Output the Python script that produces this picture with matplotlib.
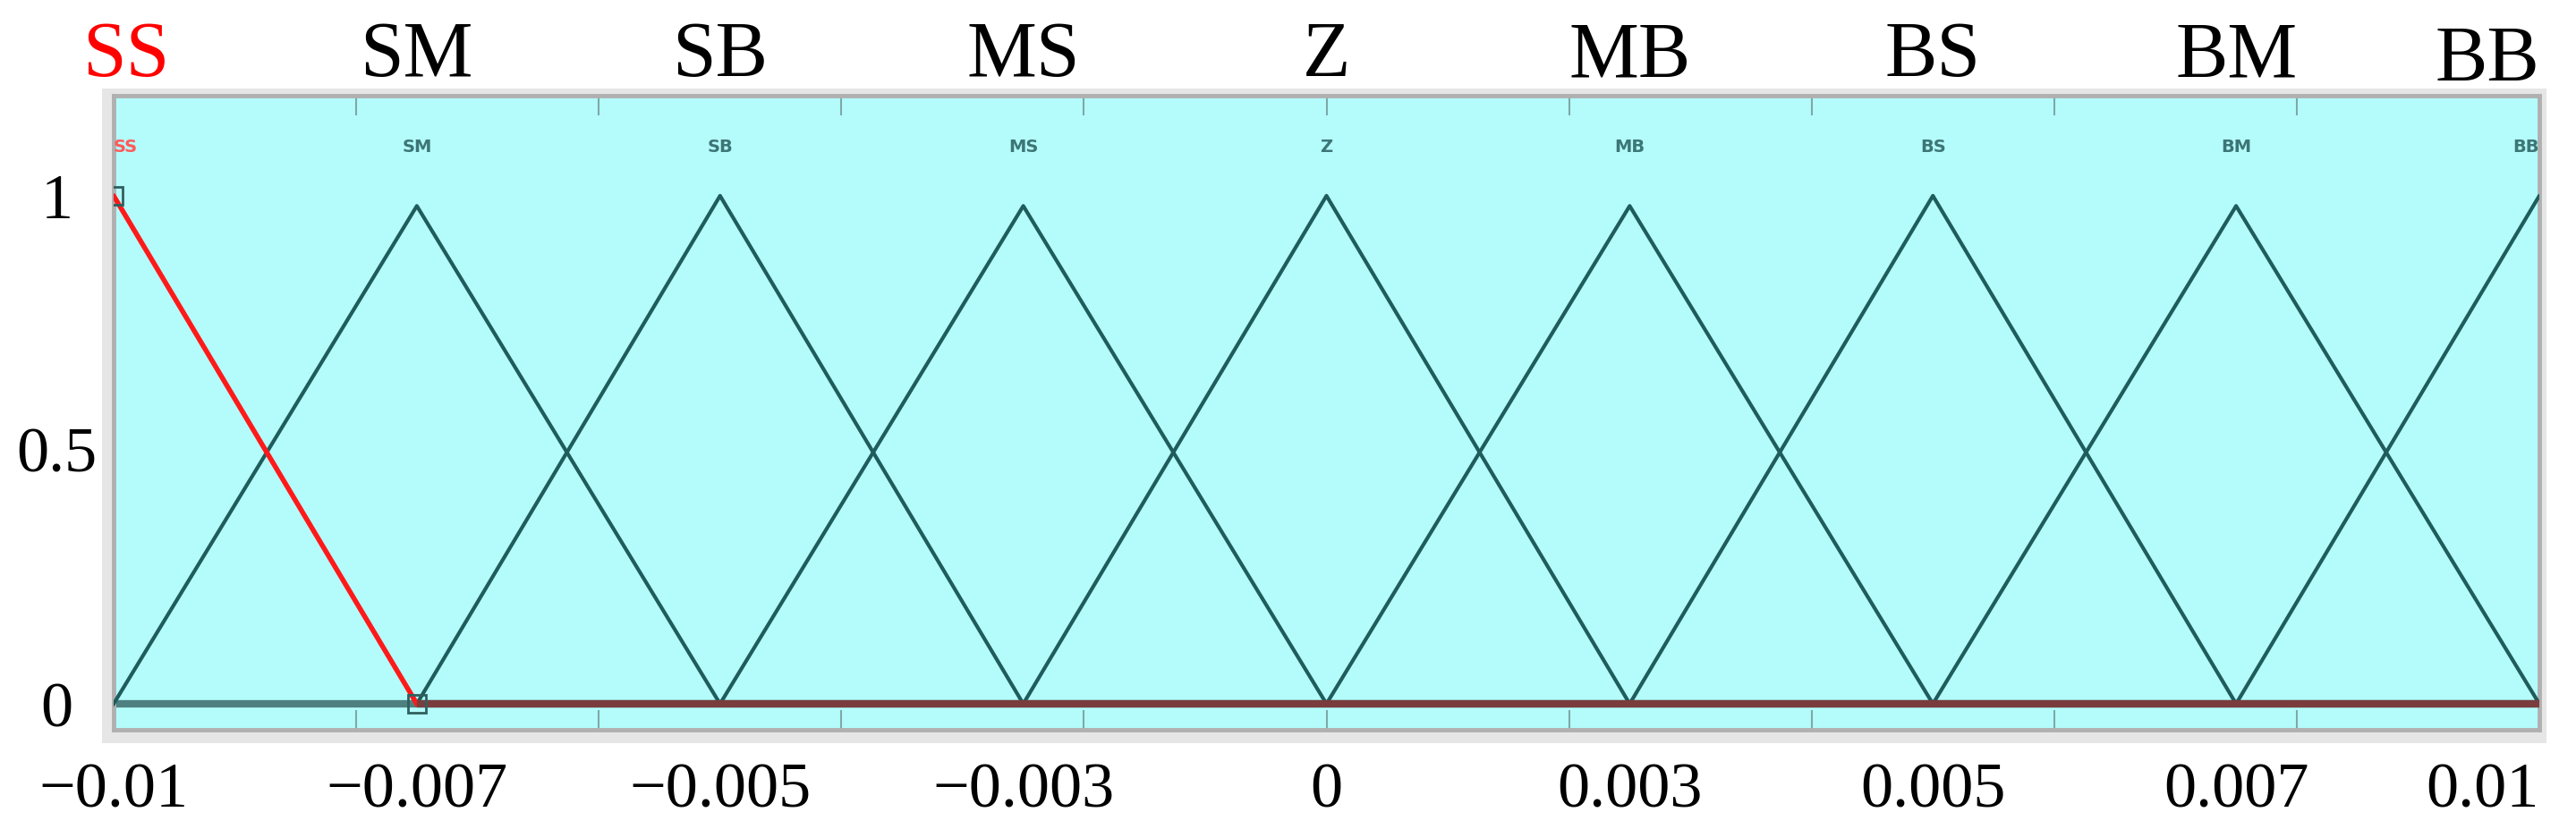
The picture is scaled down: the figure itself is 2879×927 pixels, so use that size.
import numpy as np
import matplotlib
matplotlib.use("Agg")
import matplotlib.pyplot as plt
import matplotlib.transforms as mtrans
from matplotlib.patches import Rectangle

# membership functions (triangles): left foot, peak, right foot, peak height
mf_names = ['SS', 'SM', 'SB', 'MS', 'Z', 'MB', 'BS', 'BM', 'BB']
mf_left = [-0.0125, -0.01, -0.0075, -0.005, -0.0025, 0.0, 0.0025, 0.005, 0.0075]
mf_peak = [-0.01, -0.0075, -0.005, -0.0025, 0.0, 0.0025, 0.005, 0.0075, 0.01]
mf_right = [-0.0075, -0.005, -0.0025, 0.0, 0.0025, 0.005, 0.0075, 0.01, 0.0125]
mf_height = [1.0, 0.98, 1.0, 0.98, 1.0, 0.98, 1.0, 0.98, 1.0]

xtick_labels = ['\u22120.01', '\u22120.007', '\u22120.005', '\u22120.003', '0',
                '0.003', '0.005', '0.007', '0.01']
ytick_vals = [0, 0.5, 1]
ytick_labels = ['0', '0.5', '1']
minor_ticks = [-0.008, -0.006, -0.004, -0.002, 0.0, 0.002, 0.004, 0.006, 0.008]

selected = 0  # SS is highlighted

W, H, DPI = 2879, 927, 100
fig = plt.figure(figsize=(W / DPI, H / DPI), dpi=DPI)
fig.patch.set_facecolor('white')

# light grey frame behind the axes (like the MATLAB window)
frame = Rectangle((114 / W, 1 - 831 / H), (2846 - 114) / W, (831 - 99) / H,
                  transform=fig.transFigure, facecolor='#e6e6e6', edgecolor='none')
frame.set_zorder(-5)
fig.add_artist(frame)

ax = fig.add_axes([127 / W, 1 - 816 / H, (2838 - 127) / W, (816 - 107) / H])
ax.set_zorder(5)
ax.set_facecolor('#b4fcfc')
for s in ax.spines.values():
    s.set_color('#b0b0b0')
    s.set_linewidth(3.5)

ax.set_xlim(-0.01, 0.01)
ax.set_ylim(-0.051, 1.197)

line_col = '#1f5c5c'
for i, name in enumerate(mf_names):
    if i == selected:
        continue
    ax.plot([mf_left[i], mf_peak[i], mf_right[i]], [0, mf_height[i], 0],
            color=line_col, lw=3, zorder=3)

# baseline
ax.plot([-0.01, 0.01], [0, 0], color='#4f8080', lw=6, zorder=2, solid_capstyle='butt')

# highlighted SS function
ax.plot([mf_left[selected], mf_peak[selected], mf_right[selected]], [0, mf_height[selected], 0],
        color='#ff1a1a', lw=4, zorder=4)
ax.plot([mf_right[selected], 0.01], [0, 0], color='#7a3c3c', lw=6, zorder=4,
        solid_capstyle='butt')
ax.plot([mf_peak[selected], mf_right[selected]], [mf_height[selected], 0], linestyle='none',
        marker='s', markersize=14, markerfacecolor='none', markeredgecolor='#2f5f5f',
        markeredgewidth=2, zorder=5)

# small labels inside plot
for i, name in enumerate(mf_names):
    ha = 'center'
    x = mf_peak[i]
    if i == 0:
        ha = 'left'
    elif i == len(mf_names) - 1:
        ha = 'right'
    ax.text(x, 1.095, name, ha=ha, va='center', fontsize=14, fontweight='bold',
            color='#ff5a5a' if i == selected else '#3d7676',
            family='DejaVu Sans', zorder=6)

# minor inward ticks (top and bottom)
ax.set_xticks(minor_ticks, minor=True)
ax.tick_params(axis='x', which='minor', direction='in', top=True, bottom=True,
               length=16, width=1.5, color='#7fa8a8')
ax.set_xticks([])
ax.set_yticks([])

serif = ['Liberation Serif', 'DejaVu Serif']
tx = mtrans.blended_transform_factory(ax.transData, ax.transAxes)
ty = mtrans.blended_transform_factory(ax.transAxes, ax.transData)

# big labels on top
for i, name in enumerate(mf_names):
    ha = 'center'
    x = mf_peak[i]
    y = 1.031
    if i == 0:
        x = x + 0.0001
    if i == len(mf_names) - 1:
        ha = 'right'
        y = 1.024
    ax.text(x, y, name, transform=tx, ha=ha, va='baseline', fontsize=63,
            family=serif, color='red' if i == selected else 'black', clip_on=False)

# x tick labels
for i, lab in enumerate(xtick_labels):
    ha = 'center'
    if i == len(xtick_labels) - 1:
        ha = 'right'
    ax.text(mf_peak[i], -0.1215, lab, transform=tx, ha=ha, va='baseline',
            fontsize=52, family=serif, clip_on=False)

# y tick labels
for v, lab in zip(ytick_vals, ytick_labels):
    ax.text(-0.0235, v, lab, transform=ty, ha='center', va='center_baseline',
            fontsize=52, family=serif, clip_on=False)

fig.savefig('out.png', dpi=DPI)
